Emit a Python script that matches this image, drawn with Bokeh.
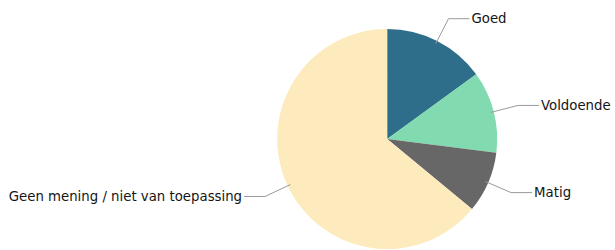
import math
from bokeh.plotting import figure
from bokeh.models import ColumnDataSource
from bokeh.core.properties import value
from bokeh.embed import file_html
from bokeh.resources import INLINE

categories = ["Goed", "Voldoende", "Matig", "Geen mening / niet van toepassing"]
values = [15, 12, 9, 64]
colors = ["#2f6e8a", "#82dbb0", "#676767", "#fdebbd"]

W, H = 615, 250
cx, cy, R = 386.7, 250 - 138.5, 110
R_elbow = 135
horiz = 21

total = float(sum(values))
starts, ends, mids = [], [], []
a = math.pi / 2
for v in values:
    sweep = v / total * 2 * math.pi
    starts.append(a)
    ends.append(a - sweep)
    mids.append(a - sweep / 2)
    a -= sweep

p = figure(width=W, height=H, x_range=(0, W), y_range=(0, H),
           output_backend="svg", toolbar_location=None, min_border=0,
           outline_line_color=None)
p.axis.visible = False
p.grid.visible = False
p.background_fill_color = "white"

src = ColumnDataSource(dict(start=ends, end=starts, color=colors, cat=categories))
p.wedge(x=cx, y=cy, radius=R, start_angle="start", end_angle="end",
        fill_color="color", line_color=None, source=src)

lx, ly, tx, ty, align = [], [], [], [], []
for m in mids:
    x0, y0 = cx + (R - 3) * math.cos(m), cy + (R - 3) * math.sin(m)
    x1, y1 = cx + R_elbow * math.cos(m), cy + R_elbow * math.sin(m)
    side = 1 if math.cos(m) >= 0 else -1
    x2 = x1 + side * horiz
    lx.append([x0, x1, x2])
    ly.append([y0, y1, y1])
    tx.append(x2 + side * 2)
    ty.append(y1)
    align.append("left" if side > 0 else "right")

p.multi_line(xs=lx, ys=ly, line_color="#9a9a9a", line_width=1)
tsrc = ColumnDataSource(dict(x=tx, y=ty, t=categories, a=align))
p.text(x="x", y="y", text="t", text_align="a", text_baseline="middle",
       text_font=value("DejaVu Sans"), text_font_size="13.3px",
       text_color="#151515", source=tsrc)

open("out.html", "w").write(file_html(p, INLINE))
